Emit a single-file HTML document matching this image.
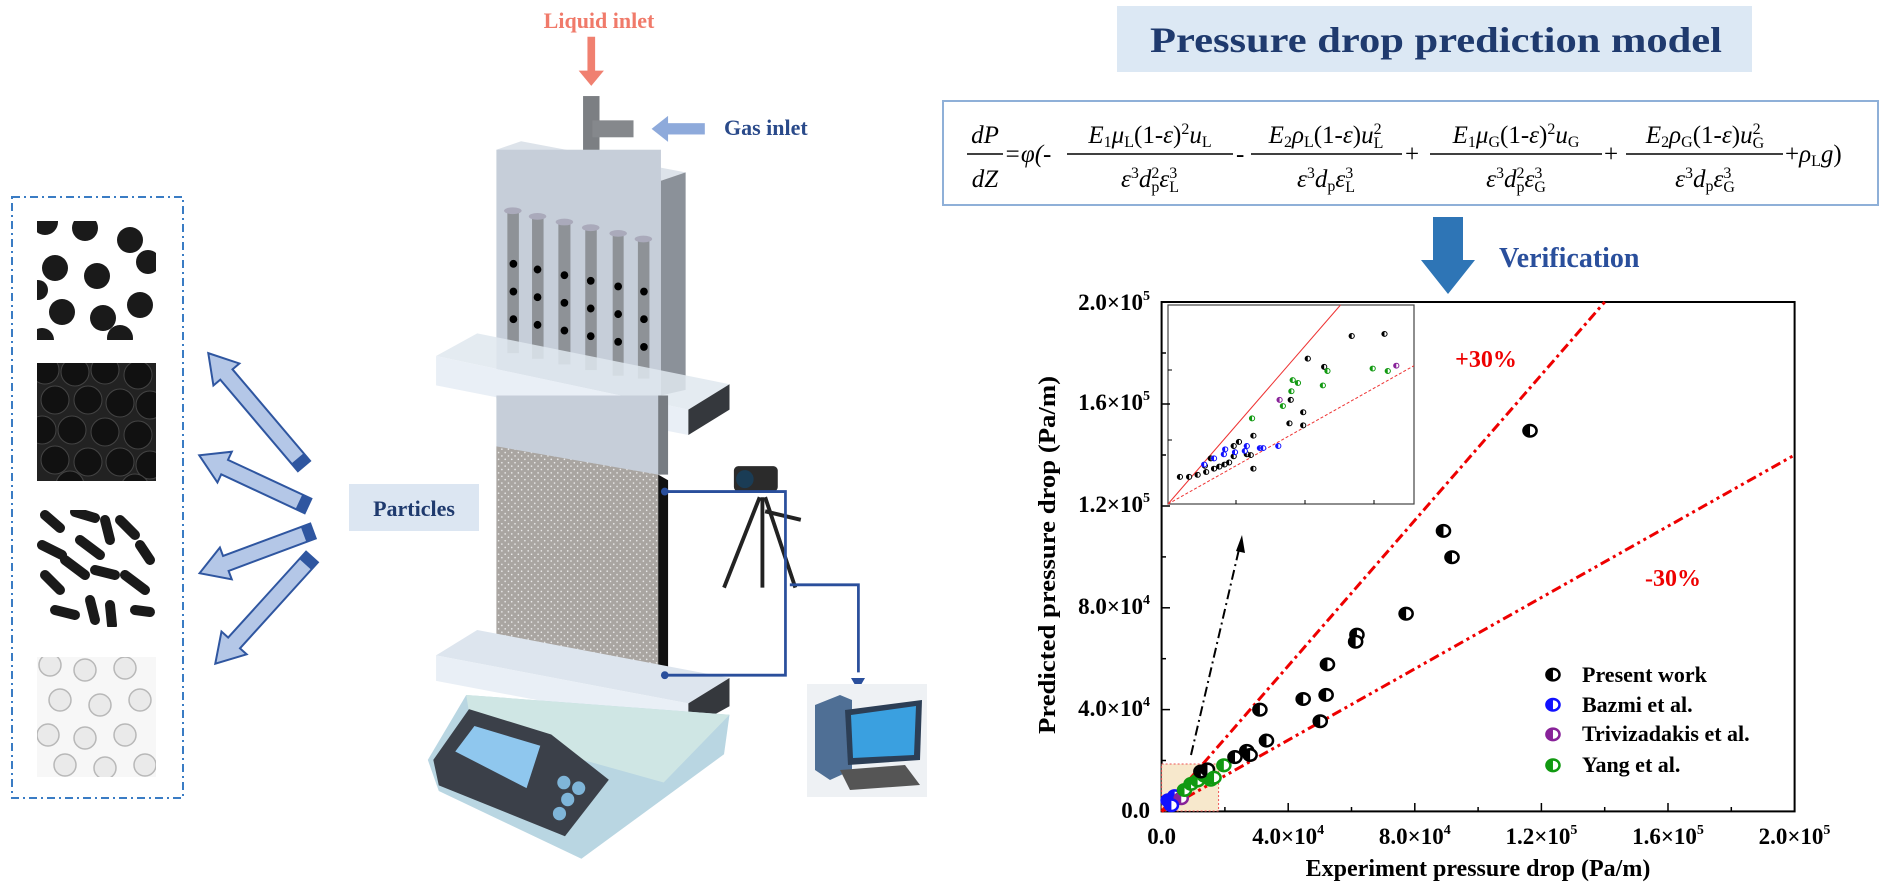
<!DOCTYPE html>
<html><head><meta charset="utf-8"><style>
html,body{margin:0;padding:0;background:#fff;}
svg{display:block;}
.ser{font-family:"Liberation Serif",serif;}
</style></head><body>
<svg width="1888" height="886" viewBox="0 0 1888 886" xmlns="http://www.w3.org/2000/svg" class="ser">
<defs>
<pattern id="dots" width="12" height="12" patternUnits="userSpaceOnUse"><rect width="12" height="12" fill="#a9a5a1"/><circle cx="3" cy="3" r="1.4" fill="#eee"/><circle cx="9" cy="9" r="1.4" fill="#eee"/></pattern>
<clipPath id="c1"><rect x="37" y="221" width="119" height="119"/></clipPath>
<clipPath id="c2"><rect x="37" y="363" width="119" height="118"/></clipPath>
<clipPath id="c3"><rect x="37" y="510" width="119" height="117"/></clipPath>
<clipPath id="c4"><rect x="37" y="657" width="119" height="120"/></clipPath>
<g id="mk"><ellipse cx="0" cy="0" rx="10" ry="14" fill="#fff" stroke="#000" stroke-width="2.5" vector-effect="non-scaling-stroke"/><path d="M0,-14 A10,14 0 0,0 0,14 Z" fill="#000"/></g>
<g id="mb"><ellipse cx="0" cy="0" rx="10" ry="14" fill="#fff" stroke="#11f" stroke-width="2.5" vector-effect="non-scaling-stroke"/><path d="M0,-14 A10,14 0 0,0 0,14 Z" fill="#11f"/></g>
<g id="mp"><ellipse cx="0" cy="0" rx="10" ry="14" fill="#fff" stroke="#829" stroke-width="2.5" vector-effect="non-scaling-stroke"/><path d="M0,-14 A10,14 0 0,0 0,14 Z" fill="#829"/></g>
<g id="mg"><ellipse cx="0" cy="0" rx="10" ry="14" fill="#fff" stroke="#191" stroke-width="2.5" vector-effect="non-scaling-stroke"/><path d="M0,-14 A10,14 0 0,0 0,14 Z" fill="#191"/></g>
<g id="sk"><ellipse rx="4" ry="6" fill="#fff" stroke="#000" stroke-width="1" vector-effect="non-scaling-stroke"/><path d="M0,-6 A4,6 0 0,0 0,6Z" fill="#000"/></g>
<g id="sb"><ellipse rx="4" ry="6" fill="#fff" stroke="#11f" stroke-width="1" vector-effect="non-scaling-stroke"/><path d="M0,-6 A4,6 0 0,0 0,6Z" fill="#11f"/></g>
<g id="sp"><ellipse rx="4" ry="6" fill="#fff" stroke="#829" stroke-width="1" vector-effect="non-scaling-stroke"/><path d="M0,-6 A4,6 0 0,0 0,6Z" fill="#829"/></g>
<g id="sg"><ellipse rx="4" ry="6" fill="#fff" stroke="#191" stroke-width="1" vector-effect="non-scaling-stroke"/><path d="M0,-6 A4,6 0 0,0 0,6Z" fill="#191"/></g>
</defs>

<!-- left dashed box -->
<rect x="12" y="197" width="171" height="601" fill="none" stroke="#3a7cc4" stroke-width="2" stroke-dasharray="8,4,2,4"/>
<g clip-path="url(#c1)"><rect x="37" y="221" width="119" height="119" fill="#fff"/>
<g fill="#1a1a1a"><circle cx="45" cy="222" r="13"/><circle cx="85" cy="228" r="13"/><circle cx="130" cy="240" r="13"/><circle cx="55" cy="268" r="13"/><circle cx="97" cy="276" r="13"/><circle cx="148" cy="262" r="12"/><circle cx="62" cy="312" r="13"/><circle cx="103" cy="318" r="13"/><circle cx="140" cy="305" r="13"/><circle cx="120" cy="338" r="13"/><circle cx="42" cy="340" r="12"/><circle cx="38" cy="290" r="10"/></g></g>
<g clip-path="url(#c2)"><rect x="37" y="363" width="119" height="118" fill="#222"/>
<g fill="#111" stroke="#444" stroke-width="1"><circle cx="45" cy="370" r="14"/><circle cx="75" cy="372" r="14"/><circle cx="105" cy="370" r="14"/><circle cx="138" cy="375" r="14"/><circle cx="55" cy="400" r="14"/><circle cx="88" cy="400" r="14"/><circle cx="120" cy="403" r="14"/><circle cx="150" cy="405" r="14"/><circle cx="42" cy="430" r="14"/><circle cx="72" cy="430" r="14"/><circle cx="105" cy="432" r="14"/><circle cx="138" cy="435" r="14"/><circle cx="55" cy="460" r="14"/><circle cx="88" cy="462" r="14"/><circle cx="120" cy="462" r="14"/><circle cx="150" cy="465" r="14"/><circle cx="70" cy="485" r="14"/><circle cx="135" cy="488" r="14"/></g></g>
<g clip-path="url(#c3)"><rect x="37" y="510" width="119" height="117" fill="#fff"/>
<g stroke="#1a1a1a" stroke-width="10" stroke-linecap="round"><line x1="45" y1="515" x2="60" y2="528"/><line x1="75" y1="512" x2="95" y2="518"/><line x1="120" y1="520" x2="135" y2="535"/><line x1="42" y1="545" x2="62" y2="555"/><line x1="80" y1="540" x2="100" y2="555"/><line x1="140" y1="545" x2="150" y2="560"/><line x1="45" y1="575" x2="60" y2="590"/><line x1="95" y1="570" x2="115" y2="575"/><line x1="125" y1="575" x2="145" y2="590"/><line x1="55" y1="610" x2="75" y2="615"/><line x1="90" y1="600" x2="95" y2="620"/><line x1="110" y1="605" x2="112" y2="625"/><line x1="135" y1="610" x2="150" y2="612"/><line x1="65" y1="560" x2="85" y2="575"/><line x1="105" y1="520" x2="110" y2="540"/></g></g>
<g clip-path="url(#c4)"><rect x="37" y="657" width="119" height="120" fill="#f7f7f7"/>
<g fill="#eaeaea" stroke="#b8b8b8" stroke-width="1.5"><circle cx="50" cy="665" r="11"/><circle cx="85" cy="670" r="11"/><circle cx="125" cy="668" r="11"/><circle cx="60" cy="700" r="11"/><circle cx="100" cy="705" r="11"/><circle cx="140" cy="700" r="11"/><circle cx="48" cy="735" r="11"/><circle cx="85" cy="738" r="11"/><circle cx="125" cy="735" r="11"/><circle cx="65" cy="765" r="11"/><circle cx="105" cy="768" r="11"/><circle cx="145" cy="765" r="11"/></g></g>

<!-- arrows: tail at origin, head at +x -->
<g transform="translate(304,466) rotate(-130.3)"><polygon points="0,-8 120,-8 120,-17 148,0 120,17 120,8 0,8" fill="#b4c7e7" stroke="#2f56a0" stroke-width="2"/><rect x="0" y="-8" width="10" height="16" fill="#2f56a0"/></g>
<g transform="translate(308,506) rotate(-155)"><polygon points="0,-8 92,-8 92,-17 120,0 92,17 92,8 0,8" fill="#b4c7e7" stroke="#2f56a0" stroke-width="2"/><rect x="0" y="-8" width="10" height="16" fill="#2f56a0"/></g>
<g transform="translate(313,531) rotate(159.6)"><polygon points="0,-8 93,-8 93,-17 121,0 93,17 93,8 0,8" fill="#b4c7e7" stroke="#2f56a0" stroke-width="2"/><rect x="0" y="-8" width="10" height="16" fill="#2f56a0"/></g>
<g transform="translate(312,557) rotate(132.2)"><polygon points="0,-8 116,-8 116,-17 144,0 116,17 116,8 0,8" fill="#b4c7e7" stroke="#2f56a0" stroke-width="2"/><rect x="0" y="-8" width="10" height="16" fill="#2f56a0"/></g>

<rect x="349" y="484" width="130" height="47" fill="#dce6f2"/>
<text x="414" y="516" text-anchor="middle" font-size="22" font-weight="bold" fill="#1f3a6e">Particles</text>

<!-- apparatus in z2 coords -->
<g transform="scale(0.5485,0.565)">
<line x1="1078" y1="65" x2="1078" y2="130" stroke="#f08070" stroke-width="14"/>
<polygon points="1055,125 1101,125 1078,152" fill="#f08070"/>
<rect x="1215" y="218" width="70" height="20" fill="#8eaadb"/>
<polygon points="1218,205 1218,251 1188,228" fill="#8eaadb"/>
<rect x="1063" y="170" width="30" height="125" fill="#7c7f83"/>
<rect x="1080" y="213" width="75" height="30" fill="#85888c"/>
<polygon points="905,265 950,250 1250,305 1205,320" fill="#dde3ea"/>
<rect x="905" y="265" width="300" height="440" fill="#c6ced9"/>
<polygon points="1205,320 1250,305 1250,690 1205,700" fill="#8b9199"/>
<g fill="#8e9297"><rect x="925" y="375" width="21" height="250"/><rect x="970" y="385" width="21" height="250"/><rect x="1018" y="395" width="22" height="250"/><rect x="1067" y="405" width="21" height="250"/><rect x="1117" y="415" width="20" height="250"/><rect x="1163" y="425" width="21" height="245"/></g>
<g fill="#aab" ><ellipse cx="935" cy="373" rx="16" ry="6"/><ellipse cx="980" cy="383" rx="16" ry="6"/><ellipse cx="1029" cy="393" rx="16" ry="6"/><ellipse cx="1077" cy="403" rx="16" ry="6"/><ellipse cx="1127" cy="413" rx="16" ry="6"/><ellipse cx="1173" cy="423" rx="16" ry="6"/></g>
<g fill="#000"><circle cx="936" cy="467" r="7"/><circle cx="936" cy="516" r="7"/><circle cx="936" cy="565" r="7"/><circle cx="980" cy="477" r="7"/><circle cx="980" cy="526" r="7"/><circle cx="980" cy="575" r="7"/><circle cx="1029" cy="487" r="7"/><circle cx="1029" cy="536" r="7"/><circle cx="1029" cy="585" r="7"/><circle cx="1077" cy="497" r="7"/><circle cx="1077" cy="546" r="7"/><circle cx="1077" cy="595" r="7"/><circle cx="1127" cy="507" r="7"/><circle cx="1127" cy="556" r="7"/><circle cx="1127" cy="605" r="7"/><circle cx="1174" cy="516" r="7"/><circle cx="1174" cy="565" r="7"/><circle cx="1174" cy="614" r="7"/></g>
<polygon points="795,630 870,590 1330,680 1255,725" fill="#dfe7ef" fill-opacity="0.85"/>
<polygon points="795,630 1255,725 1255,770 795,682" fill="#e9eff6"/>
<polygon points="1255,725 1330,680 1330,725 1255,770" fill="#35383d"/>
<rect x="905" y="700" width="300" height="140" fill="#c6ced9"/>
<rect x="1200" y="700" width="18" height="140" fill="#777c82"/>
<polygon points="905,790 1200,840 1200,1215 905,1165" fill="url(#dots)"/>
<polygon points="1200,840 1218,850 1218,1215 1200,1215" fill="#111"/>
<polygon points="795,1160 870,1115 1330,1200 1255,1245" fill="#dde5ee"/>
<polygon points="795,1160 1255,1245 1255,1290 795,1205" fill="#e9eff6"/>
<polygon points="1255,1245 1330,1200 1330,1250 1255,1290" fill="#35383d"/>
<polygon points="780,1345 850,1230 1330,1265 1320,1335 1060,1520 800,1400" fill="#b9d6e2"/>
<polygon points="850,1230 1330,1265 1210,1385 860,1290" fill="#cfe6e4"/>
<polygon points="790,1345 855,1255 1005,1300 1110,1380 1030,1480 800,1390" fill="#3b4049"/>
<polygon points="830,1330 865,1285 985,1320 960,1395" fill="#8fc7ee"/>
<g fill="#7fb5d8"><circle cx="1028" cy="1385" r="12"/><circle cx="1055" cy="1395" r="12"/><circle cx="1035" cy="1415" r="12"/><circle cx="1020" cy="1440" r="12"/></g>
<rect x="1338" y="825" width="80" height="45" rx="8" fill="#2b2b2b"/>
<circle cx="1358" cy="848" r="16" fill="#1a3c55"/>
<g stroke="#222" stroke-width="7"><line x1="1385" y1="880" x2="1320" y2="1040"/><line x1="1390" y1="880" x2="1390" y2="1040"/><line x1="1395" y1="880" x2="1450" y2="1040"/><line x1="1395" y1="905" x2="1460" y2="920"/></g>
<g fill="none" stroke="#2a4f9c" stroke-width="5"><polyline points="1212,870 1432,870 1432,1195 1212,1195"/><polyline points="1440,1035 1565,1035 1565,1190"/></g>
<circle cx="1212" cy="870" r="7" fill="#2a4f9c"/><circle cx="1212" cy="1195" r="7" fill="#2a4f9c"/>
</g>
<polygon points="851,678 865,678 858,690" fill="#2a4f9c"/>
<text x="599" y="28" text-anchor="middle" font-size="22" font-weight="bold" fill="#f07a6a">Liquid inlet</text>
<text x="724" y="135" font-size="22" font-weight="bold" fill="#2a4a8a">Gas inlet</text>
<!-- computer -->
<rect x="807" y="684" width="120" height="113" fill="#eef1f4"/>
<polygon points="815,705 840,695 852,700 852,770 830,780 815,770" fill="#4f6f95"/>
<polygon points="845,710 922,700 920,760 848,765" fill="#2c3e55"/>
<polygon points="851,715 916,706 914,755 853,758" fill="#3aa0e0"/>
<polygon points="840,770 905,765 920,785 850,790" fill="#555"/>

<!-- title & equation -->
<rect x="1117" y="6" width="635" height="66" fill="#dce8f4"/>
<text x="1436" y="52" text-anchor="middle" font-size="36" font-weight="bold" fill="#1f3a6e" textLength="572" lengthAdjust="spacingAndGlyphs">Pressure drop prediction model</text>
<rect x="943" y="101" width="935" height="104" fill="#fff" stroke="#8fb0d8" stroke-width="2"/>
<g font-size="25" font-style="italic" fill="#000">
<text x="985" y="143" text-anchor="middle">dP</text><line x1="967" y1="154" x2="1003" y2="154" stroke="#000" stroke-width="1.5"/><text x="985" y="187" text-anchor="middle">dZ</text>
<text x="1004" y="162">=φ(-</text>
<text x="1150" y="143" text-anchor="middle">E<tspan font-size="16" font-style="normal" dy="4">1</tspan><tspan dy="-4">μ</tspan><tspan font-size="16" font-style="normal" dy="4">L</tspan><tspan dy="-4" font-style="normal">(1-</tspan>ε<tspan font-style="normal">)</tspan><tspan font-size="16" font-style="normal" dy="-9">2</tspan><tspan dy="9">u</tspan><tspan font-size="16" font-style="normal" dy="4">L</tspan></text>
<line x1="1067" y1="154" x2="1233" y2="154" stroke="#000" stroke-width="1.5"/>
<text x="1150" y="187" text-anchor="middle">ε<tspan font-size="16" font-style="normal" dy="-9">3</tspan><tspan dy="9">d</tspan><tspan font-size="16" font-style="normal" dy="-9">2</tspan><tspan font-size="16" font-style="normal" dx="-8" dy="14">p</tspan><tspan dy="-5">ε</tspan><tspan font-size="16" font-style="normal" dy="-9">3</tspan><tspan font-size="16" font-style="normal" dx="-8" dy="14">L</tspan></text>
<text x="1236" y="162" font-style="normal">-</text>
<text x="1326" y="143" text-anchor="middle">E<tspan font-size="16" font-style="normal" dy="4">2</tspan><tspan dy="-4">ρ</tspan><tspan font-size="16" font-style="normal" dy="4">L</tspan><tspan dy="-4" font-style="normal">(1-</tspan>ε<tspan font-style="normal">)</tspan>u<tspan font-size="16" font-style="normal" dy="-9">2</tspan><tspan font-size="16" font-style="normal" dx="-8" dy="14">L</tspan></text>
<line x1="1251" y1="154" x2="1402" y2="154" stroke="#000" stroke-width="1.5"/>
<text x="1326" y="187" text-anchor="middle">ε<tspan font-size="16" font-style="normal" dy="-9">3</tspan><tspan dy="9">d</tspan><tspan font-size="16" font-style="normal" dy="4">p</tspan><tspan dy="-4">ε</tspan><tspan font-size="16" font-style="normal" dy="-9">3</tspan><tspan font-size="16" font-style="normal" dx="-8" dy="14">L</tspan></text>
<text x="1405" y="162" font-style="normal">+</text>
<text x="1516" y="143" text-anchor="middle">E<tspan font-size="16" font-style="normal" dy="4">1</tspan><tspan dy="-4">μ</tspan><tspan font-size="16" font-style="normal" dy="4">G</tspan><tspan dy="-4" font-style="normal">(1-</tspan>ε<tspan font-style="normal">)</tspan><tspan font-size="16" font-style="normal" dy="-9">2</tspan><tspan dy="9">u</tspan><tspan font-size="16" font-style="normal" dy="4">G</tspan></text>
<line x1="1430" y1="154" x2="1602" y2="154" stroke="#000" stroke-width="1.5"/>
<text x="1516" y="187" text-anchor="middle">ε<tspan font-size="16" font-style="normal" dy="-9">3</tspan><tspan dy="9">d</tspan><tspan font-size="16" font-style="normal" dy="-9">2</tspan><tspan font-size="16" font-style="normal" dx="-8" dy="14">p</tspan><tspan dy="-5">ε</tspan><tspan font-size="16" font-style="normal" dy="-9">3</tspan><tspan font-size="16" font-style="normal" dx="-8" dy="14">G</tspan></text>
<text x="1604" y="162" font-style="normal">+</text>
<text x="1705" y="143" text-anchor="middle">E<tspan font-size="16" font-style="normal" dy="4">2</tspan><tspan dy="-4">ρ</tspan><tspan font-size="16" font-style="normal" dy="4">G</tspan><tspan dy="-4" font-style="normal">(1-</tspan>ε<tspan font-style="normal">)</tspan>u<tspan font-size="16" font-style="normal" dy="-9">2</tspan><tspan font-size="16" font-style="normal" dx="-8" dy="14">G</tspan></text>
<line x1="1626" y1="154" x2="1783" y2="154" stroke="#000" stroke-width="1.5"/>
<text x="1705" y="187" text-anchor="middle">ε<tspan font-size="16" font-style="normal" dy="-9">3</tspan><tspan dy="9">d</tspan><tspan font-size="16" font-style="normal" dy="4">p</tspan><tspan dy="-4">ε</tspan><tspan font-size="16" font-style="normal" dy="-9">3</tspan><tspan font-size="16" font-style="normal" dx="-8" dy="14">G</tspan></text>
<text x="1785" y="162"><tspan font-style="normal">+</tspan>ρ<tspan font-size="16" font-style="normal" dy="4">L</tspan><tspan dy="-4">g</tspan><tspan font-style="normal">)</tspan></text>
</g>

<!-- verification arrow -->
<polygon points="1433,217 1463,217 1463,260 1475,260 1448,294 1421,260 1433,260" fill="#2e75b6"/>
<text x="1499" y="267" font-size="28" font-weight="bold" fill="#2a4f9c">Verification</text>

<!-- chart -->
<rect x="1161.6" y="302" width="633" height="509.4" fill="none" stroke="#000" stroke-width="2"/>
<rect x="1161.6" y="764" width="57" height="47" fill="#f7e8cc" stroke="#e55" stroke-width="1" stroke-dasharray="2,2"/>
<line x1="1161.6" y1="811.4" x2="1604.7" y2="302" stroke="#e00" stroke-width="3" stroke-dasharray="10,4,3,4"/>
<line x1="1161.6" y1="811.4" x2="1794.5" y2="455" stroke="#e00" stroke-width="3" stroke-dasharray="10,4,3,4,3,4"/>
<line x1="1191" y1="755" x2="1240" y2="545" stroke="#000" stroke-width="2" stroke-dasharray="10,4,2,4"/>
<polygon points="1242,535 1245,553 1236,551" fill="#000"/>
<!-- inset -->
<rect x="1168" y="305" width="246" height="199" fill="#fff" stroke="#444" stroke-width="1.2"/>
<g stroke="#e33" stroke-width="1"><line x1="1168" y1="504" x2="1340.5" y2="305"/><line x1="1168" y1="504" x2="1414" y2="365.7" stroke-dasharray="3,2"/></g>
<g stroke="#000" stroke-width="1"><line x1="1168" y1="370" x2="1172" y2="370"/><line x1="1168" y1="440" x2="1172" y2="440"/><line x1="1236" y1="504" x2="1236" y2="500"/><line x1="1305" y1="504" x2="1305" y2="500"/><line x1="1374" y1="504" x2="1374" y2="500"/></g>
<g transform="translate(860,240) scale(0.6556,0.412)">
<use href="#sk" x="488" y="575"/><use href="#sk" x="502" y="575"/><use href="#sk" x="515" y="570"/><use href="#sk" x="528" y="563"/><use href="#sk" x="540" y="555"/><use href="#sk" x="548" y="550"/><use href="#sk" x="556" y="545"/><use href="#sk" x="563" y="540"/><use href="#sk" x="570" y="525"/><use href="#sk" x="578" y="490"/><use href="#sk" x="570" y="500"/><use href="#sk" x="590" y="520"/><use href="#sk" x="596" y="522"/><use href="#sk" x="600" y="475"/><use href="#sk" x="600" y="555"/><use href="#sk" x="655" y="445"/><use href="#sk" x="676" y="450"/><use href="#sk" x="676" y="418"/><use href="#sk" x="657" y="388"/><use href="#sk" x="683" y="288"/><use href="#sk" x="708" y="308"/><use href="#sk" x="750" y="233"/><use href="#sk" x="800" y="228"/><use href="#sk" x="526" y="548"/><use href="#sk" x="535" y="530"/>
<use href="#sb" x="525" y="545"/><use href="#sb" x="540" y="530"/><use href="#sb" x="555" y="520"/><use href="#sb" x="557" y="508"/><use href="#sb" x="572" y="515"/><use href="#sb" x="590" y="500"/><use href="#sb" x="587" y="512"/><use href="#sb" x="610" y="505"/><use href="#sb" x="615" y="505"/><use href="#sb" x="638" y="500"/>
<use href="#sp" x="640" y="388"/><use href="#sp" x="818" y="305"/>
<use href="#sg" x="598" y="433"/><use href="#sg" x="645" y="403"/><use href="#sg" x="658" y="367"/><use href="#sg" x="660" y="340"/><use href="#sg" x="668" y="347"/><use href="#sg" x="706" y="353"/><use href="#sg" x="713" y="318"/><use href="#sg" x="782" y="312"/><use href="#sg" x="805" y="318"/>
<!-- main points -->
<use href="#mb" x="470" y="1360"/><use href="#mb" x="480" y="1350"/><use href="#mp" x="490" y="1355"/><use href="#mb" x="475" y="1372"/>
<use href="#mg" x="495" y="1335"/><use href="#mg" x="505" y="1320"/><use href="#mg" x="515" y="1312"/><use href="#mg" x="525" y="1300"/><use href="#mg" x="535" y="1310"/><use href="#mk" x="520" y="1290"/><use href="#mk" x="530" y="1285"/><use href="#mg" x="540" y="1305"/>
<use href="#mg" x="555" y="1275"/>
<use href="#mk" x="1022" y="463"/><use href="#mk" x="890" y="706"/><use href="#mk" x="903" y="770"/><use href="#mk" x="833" y="907"/><use href="#mk" x="758" y="958"/><use href="#mk" x="756" y="975"/><use href="#mk" x="713" y="1030"/><use href="#mk" x="711" y="1104"/><use href="#mk" x="676" y="1114"/><use href="#mk" x="702" y="1168"/><use href="#mk" x="610" y="1140"/><use href="#mk" x="620" y="1215"/><use href="#mk" x="590" y="1240"/><use href="#mk" x="595" y="1250"/><use href="#mk" x="572" y="1255"/>
<use href="#mk" x="1057" y="1055"/><use href="#mb" x="1057" y="1128"/><use href="#mp" x="1057" y="1200"/><use href="#mg" x="1057" y="1275"/>
</g>
<!-- ticks -->
<g stroke="#000" stroke-width="1.5">
<line x1="1288.2" y1="811" x2="1288.2" y2="803"/><line x1="1414.8" y1="811" x2="1414.8" y2="803"/><line x1="1541.4" y1="811" x2="1541.4" y2="803"/><line x1="1668" y1="811" x2="1668" y2="803"/>
<line x1="1224.9" y1="811" x2="1224.9" y2="807"/><line x1="1351.5" y1="811" x2="1351.5" y2="807"/><line x1="1478.1" y1="811" x2="1478.1" y2="807"/><line x1="1604.7" y1="811" x2="1604.7" y2="807"/><line x1="1731.3" y1="811" x2="1731.3" y2="807"/>
<line x1="1162" y1="709.6" x2="1170" y2="709.6"/><line x1="1162" y1="607.8" x2="1170" y2="607.8"/><line x1="1162" y1="506" x2="1170" y2="506"/><line x1="1162" y1="404" x2="1170" y2="404"/>
<line x1="1162" y1="760.5" x2="1166" y2="760.5"/><line x1="1162" y1="658.7" x2="1166" y2="658.7"/><line x1="1162" y1="556.9" x2="1166" y2="556.9"/><line x1="1162" y1="455" x2="1166" y2="455"/><line x1="1162" y1="353" x2="1166" y2="353"/>
</g>
<g font-size="23" font-weight="bold" fill="#000">
<text x="1150" y="818" text-anchor="end">0.0</text>
<text x="1150" y="716" text-anchor="end">4.0×10<tspan font-size="14" dy="-10">4</tspan></text>
<text x="1150" y="614" text-anchor="end">8.0×10<tspan font-size="14" dy="-10">4</tspan></text>
<text x="1150" y="512" text-anchor="end">1.2×10<tspan font-size="14" dy="-10">5</tspan></text>
<text x="1150" y="410" text-anchor="end">1.6×10<tspan font-size="14" dy="-10">5</tspan></text>
<text x="1150" y="310" text-anchor="end">2.0×10<tspan font-size="14" dy="-10">5</tspan></text>
<text x="1161.6" y="844" text-anchor="middle">0.0</text>
<text x="1288.2" y="844" text-anchor="middle">4.0×10<tspan font-size="14" dy="-10">4</tspan></text>
<text x="1414.8" y="844" text-anchor="middle">8.0×10<tspan font-size="14" dy="-10">4</tspan></text>
<text x="1541.4" y="844" text-anchor="middle">1.2×10<tspan font-size="14" dy="-10">5</tspan></text>
<text x="1668" y="844" text-anchor="middle">1.6×10<tspan font-size="14" dy="-10">5</tspan></text>
<text x="1794.5" y="844" text-anchor="middle">2.0×10<tspan font-size="14" dy="-10">5</tspan></text>
<text x="1478" y="876" text-anchor="middle" font-size="24">Experiment pressure drop (Pa/m)</text>
<text transform="translate(1055,555) rotate(-90)" text-anchor="middle" font-size="24" textLength="358" lengthAdjust="spacingAndGlyphs">Predicted pressure drop (Pa/m)</text>
<text x="1582" y="682" font-size="22">Present work</text>
<text x="1582" y="712" font-size="22">Bazmi et al.</text>
<text x="1582" y="741" font-size="22">Trivizadakis et al.</text>
<text x="1582" y="772" font-size="22">Yang et al.</text>
</g>
<text x="1486" y="367" font-size="24" font-weight="bold" fill="#e00" text-anchor="middle">+30%</text>
<text x="1673" y="586" font-size="24" font-weight="bold" fill="#e00" text-anchor="middle">-30%</text>
</svg>
</body></html>
